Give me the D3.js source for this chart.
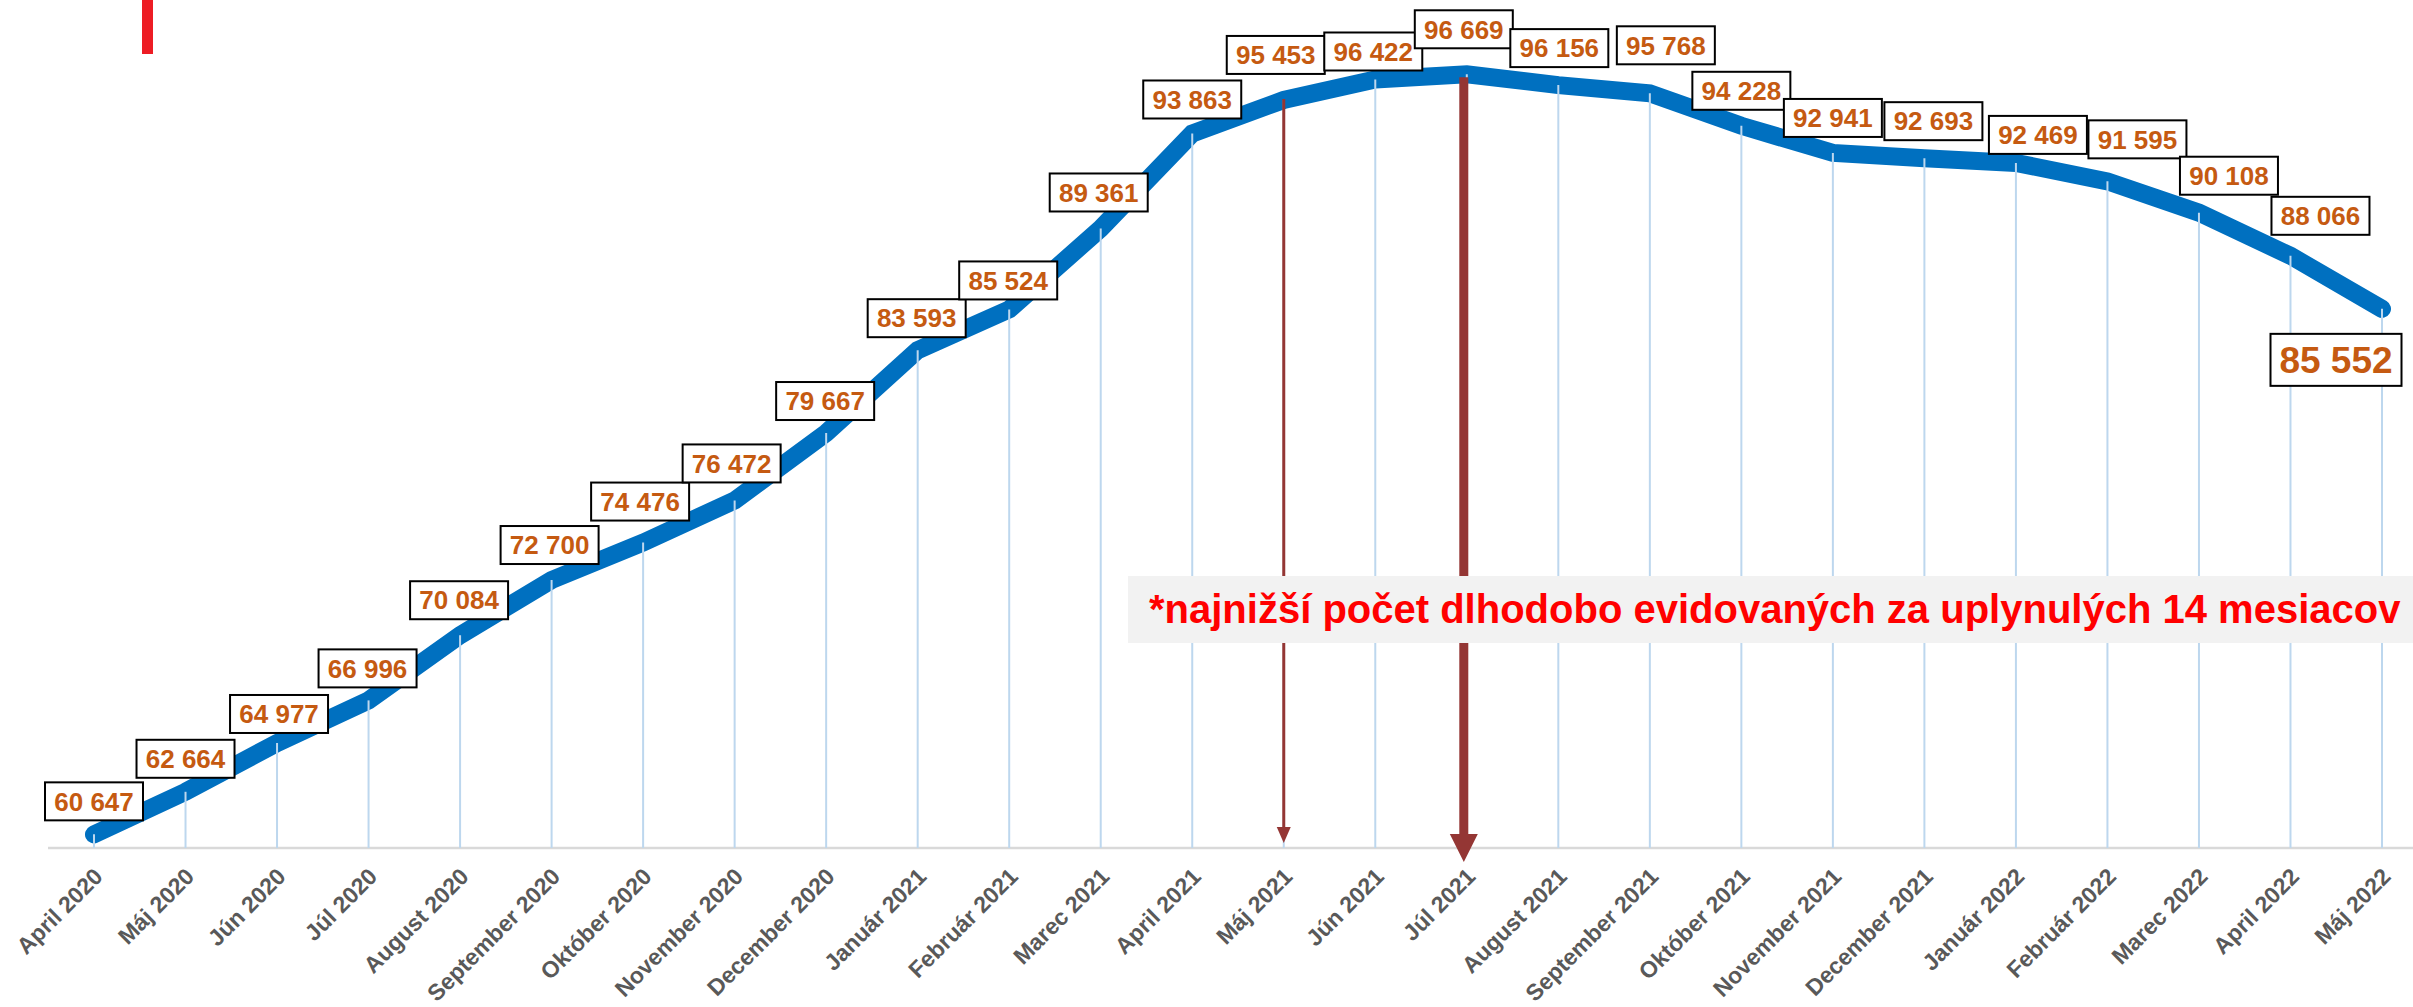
<!DOCTYPE html>
<html>
<head>
<meta charset="utf-8">
<script src="https://cdn.jsdelivr.net/npm/d3@7"></script>
<style>
  html, body { margin: 0; padding: 0; background: #fff; }
  svg { display: block; }
</style>
</head>
<body>
<svg id="chart" width="2413" height="1007"></svg>
<script>
// ---- data ----
const months = [
  "April 2020","Máj 2020","Jún 2020","Júl 2020","August 2020","September 2020",
  "Október 2020","November 2020","December 2020","Január 2021","Február 2021","Marec 2021",
  "April 2021","Máj 2021","Jún 2021","Júl 2021","August 2021","September 2021",
  "Október 2021","November 2021","December 2021","Január 2022","Február 2022","Marec 2022",
  "April 2022","Máj 2022"
];
const values = [
  60647, 62664, 64977, 66996, 70084, 72700,
  74476, 76472, 79667, 83593, 85524, 89361,
  93863, 95453, 96422, 96669, 96156, 95768,
  94228, 92941, 92693, 92469, 91595, 90108,
  88066, 85552
];
const yDomain = [60000, 100000];
const noteText = "*najnižší počet dlhodobo evidovaných za uplynulých 14 mesiacov";
const arrowMonths = ["Máj 2021", "Júl 2021"];

// ---- layout (label box offsets from their point, px) ----
const labelOffsets = [
  [0,-33],[0,-33],[2,-29],[-1,-32],[-1,-35],[-2,-35],
  [-3,-41],[-3,-37],[-1,-32],[-1,-32],[-1,-29],[-2,-36],
  [0,-34],[-8,-45],[-2,-28],[-3,-45],[1,-37],[16,-48],
  [0,-35],[0,-35],[9,-37],[22,-28],[30,-42],[30,-37],
  [30,-40],[-46,51]
];

const svg = d3.select("#chart");
const baseY = 848;

const x = d3.scalePoint().domain(months).range([94, 2382]).padding(0);
const y = d3.scaleLinear().domain(yDomain).range([baseY, 4]);

const data = months.map((m, i) => ({ m, v: values[i], i }));

// red bar top-left
svg.append("rect").attr("x", 142).attr("y", 0).attr("width", 11).attr("height", 54).attr("fill", "#ed1c24");

// x axis line
svg.append("line")
  .attr("x1", 48).attr("x2", 2413).attr("y1", baseY).attr("y2", baseY)
  .attr("stroke", "#d9d9d9").attr("stroke-width", 2.5);

// main line
const line = d3.line().x(d => x(d.m)).y(d => y(d.v));
svg.append("path")
  .datum(data)
  .attr("d", line)
  .attr("fill", "none")
  .attr("stroke", "#0070c0")
  .attr("stroke-width", 18)
  .attr("stroke-linecap", "round")
  .attr("stroke-linejoin", "miter");

// drop lines
svg.append("g").selectAll("line").data(data).join("line")
  .attr("x1", d => x(d.m)).attr("x2", d => x(d.m))
  .attr("y1", d => y(d.v)).attr("y2", baseY)
  .attr("stroke", "#bdd7ee").attr("stroke-width", 2);

// arrows
const arrowColor = "#943634";
(function () {
  const m1 = arrowMonths[0];
  const v1 = values[months.indexOf(m1)];
  const ax = x(m1);
  svg.append("line").attr("x1", ax).attr("x2", ax).attr("y1", y(v1) - 1).attr("y2", 830)
    .attr("stroke", arrowColor).attr("stroke-width", 3);
  svg.append("path")
    .attr("d", `M${ax - 7},827 L${ax + 7},827 L${ax},843 Z`)
    .attr("fill", arrowColor);
  const m2 = arrowMonths[1];
  const v2 = values[months.indexOf(m2)];
  const bx = x(m2) - 3;
  svg.append("line").attr("x1", bx).attr("x2", bx).attr("y1", y(v2) + 3).attr("y2", 836)
    .attr("stroke", arrowColor).attr("stroke-width", 9);
  svg.append("path")
    .attr("d", `M${bx - 14},834 L${bx + 14},834 L${bx},862 Z`)
    .attr("fill", arrowColor);
})();

// annotation box
svg.append("rect").attr("x", 1128).attr("y", 576).attr("width", 1290).attr("height", 67).attr("fill", "#f2f2f2");
svg.append("text")
  .attr("x", 1149).attr("y", 623)
  .attr("font-family", "'Liberation Sans', Arial, sans-serif")
  .attr("font-weight", "bold")
  .attr("font-size", 40)
  .attr("fill", "#ff0000")
  .text(noteText);

// value labels
const fmt = v => d3.format(",")(v).replace(/,/g, " ");
const labels = svg.append("g");
data.forEach((d, i) => {
  const last = i === data.length - 1;
  const fs = last ? 37 : 26;
  const w = last ? 131 : 98;
  const h = last ? 52 : 38;
  const cx = x(d.m) + labelOffsets[i][0];
  const cy = y(d.v) + labelOffsets[i][1];
  const g = labels.append("g").attr("transform", `translate(${cx},${cy})`);
  g.append("rect")
    .attr("x", -w / 2).attr("y", -h / 2).attr("width", w).attr("height", h)
    .attr("fill", "#ffffff").attr("stroke", "#000000").attr("stroke-width", 2);
  g.append("text")
    .attr("text-anchor", "middle")
    .attr("y", fs * 0.355)
    .attr("font-family", "'Liberation Sans', Arial, sans-serif")
    .attr("font-weight", "bold")
    .attr("font-size", fs)
    .attr("fill", "#c55a11")
    .text(fmt(d.v));
});

// x tick labels
svg.append("g").selectAll("text").data(months).join("text")
  .attr("transform", m => `translate(${x(m) + 10},${baseY + 30}) rotate(-45)`)
  .attr("text-anchor", "end")
  .attr("font-family", "'Liberation Sans', Arial, sans-serif")
  .attr("font-weight", "bold")
  .attr("font-size", 23)
  .attr("fill", "#595959")
  .text(m => m);
</script>
</body>
</html>
